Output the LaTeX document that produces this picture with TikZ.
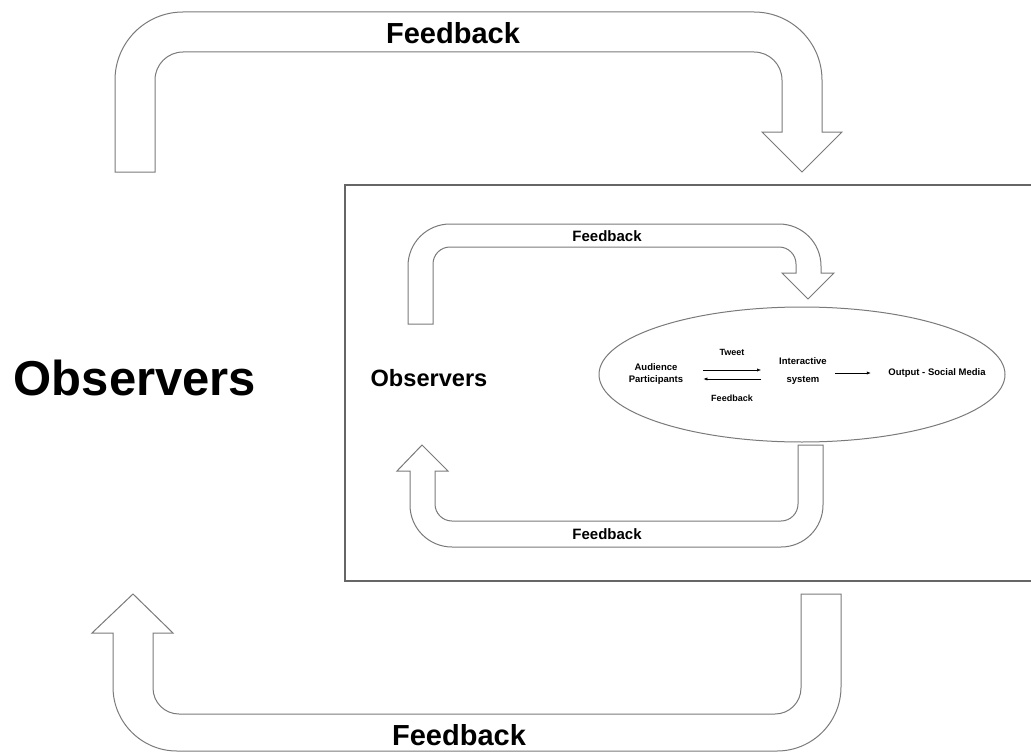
\documentclass[tikz,border=0pt]{standalone}
\usepackage{fontspec}
\setmainfont{Liberation Sans}
\usepackage{tikz}
\usetikzlibrary{arrows.meta,positioning,shapes.geometric}
\definecolor{outline}{HTML}{7A7A7A}
\definecolor{framegray}{HTML}{666666}
\tikzset{
  bentarrow/.style={draw=outline, line width=1pt, fill=white, line join=miter},
  frame/.style={draw=framegray, line width=2pt},
  sysring/.style={ellipse, draw=outline, line width=1pt, minimum width=406pt, minimum height=135pt, inner sep=0pt},
  bigtitle/.style={font=\fontsize{49}{56}\selectfont\bfseries, inner sep=0pt},
  midtitle/.style={font=\fontsize{23.6}{28}\selectfont\bfseries, inner sep=0pt},
  fbbig/.style={font=\fontsize{29}{34}\selectfont\bfseries, inner sep=0pt},
  fbmid/.style={font=\fontsize{15}{18}\selectfont\bfseries, inner sep=0pt},
  systxt/.style={font=\fontsize{9.5}{12.5}\selectfont\bfseries, align=center, inner sep=0pt},
  syssmall/.style={font=\fontsize{9}{11}\selectfont\bfseries, inner sep=0pt},
  flow/.style={-{Latex[length=4pt,width=3.2pt]}, line width=0.6pt, black},
}

\begin{document}
\begin{tikzpicture}[x=1pt,y=-1pt]
\useasboundingbox (0,0) rectangle (1031,752);
% outer loop arrows
\draw[bentarrow] (115,172) [rounded corners=68pt] -- (115,12) -- (822,12) [sharp corners] -- (822,132) -- (842,132) -- (802,172) -- (762,132) -- (782,132) [rounded corners=28pt] -- (782,52) -- (155,52) [sharp corners] -- (155,172) -- cycle;
\draw[bentarrow] (841,594) [rounded corners=64pt] -- (841,751) -- (113,751) [sharp corners] -- (113,633) -- (92,633) -- (133,594) -- (173,633) -- (153,633) [rounded corners=26pt] -- (153,714) -- (801,714) [sharp corners] -- (801,594) -- cycle;
\node[fbbig] (fbTop) at (453,33) {Feedback};
\node[fbbig] (fbBottom) at (459,735) {Feedback};
\node[bigtitle] (obsOuter) at (135,378) {Observers};

% the inner frame
\draw[frame] (1040,185) -- (345,185) -- (345,581) -- (1040,581);
\draw[bentarrow] (408,324) [rounded corners=42pt] -- (408,224) -- (821,224) [sharp corners] -- (821,273) -- (834,273) -- (808,299) -- (782,273) -- (796,273) [rounded corners=17pt] -- (796,247) -- (433,247) [sharp corners] -- (433,324) -- cycle;
\draw[bentarrow] (823,445) [rounded corners=42pt] -- (823,547) -- (410,547) [sharp corners] -- (410,471) -- (397,471) -- (422,445) -- (448,471) -- (435,471) [rounded corners=17pt] -- (435,521) -- (798,521) [sharp corners] -- (798,445) -- cycle;
\node[fbmid] (fbInTop) at (607,236) {Feedback};
\node[fbmid] (fbInBottom) at (607,534) {Feedback};
\node[midtitle] (obsInner) at (429,378) {Observers};

% interactive system
\node[sysring, fill=white] (ring) at (802,374.5) {};
\node[systxt] (audience) at (656,374) {Audience\\Participants};
\node[systxt, font=\fontsize{9.5}{17.5}\selectfont\bfseries] (interactive) at (803,371) {Interactive\\system};
\node[systxt] (output) at (937,373) {Output - Social Media};
\node[syssmall] (tweet) at (732,352) {Tweet};
\node[syssmall] (fbSys) at (732,398) {Feedback};
\draw[flow, shorten <=20pt, shorten >=18pt] ([yshift=4pt]audience.east) -- ([yshift=4pt]audience.east -| interactive.west);
\draw[flow, shorten <=18pt, shorten >=20pt] ([yshift=-5pt]audience.east -| interactive.west) -- ([yshift=-5pt]audience.east);
\draw[flow, shorten <=8.5pt, shorten >=17.5pt] (interactive.east |- output.west) -- (output.west);
\end{tikzpicture}
\end{document}
